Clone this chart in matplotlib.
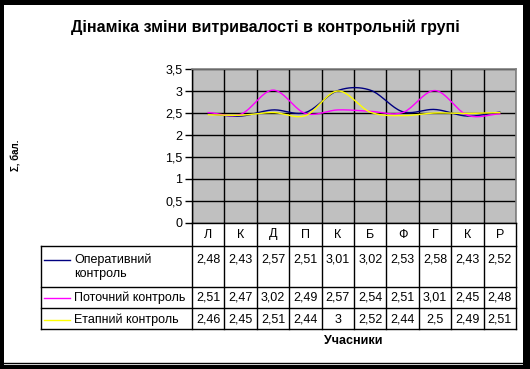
import matplotlib
matplotlib.use("Agg")
import matplotlib.pyplot as plt
import numpy as np
from matplotlib.patches import Rectangle

plt.rcParams['font.family'] = ['Liberation Sans', 'DejaVu Sans']

title = "Дінаміка зміни витривалості в контрольній групі"
categories = ["Л", "К", "Д", "П", "К", "Б", "Ф", "Г", "К", "Р"]
series_names = ["Оперативний\nконтроль", "Поточний контроль", "Етапний контроль"]
operative = [2.48, 2.43, 2.57, 2.51, 3.01, 3.02, 2.53, 2.58, 2.43, 2.52]
current = [2.51, 2.47, 3.02, 2.49, 2.57, 2.54, 2.51, 3.01, 2.45, 2.48]
stage = [2.46, 2.45, 2.51, 2.44, 3.0, 2.52, 2.44, 2.5, 2.49, 2.51]
colors = ["#000080", "#FF00FF", "#FFFF00"]
yticks = [0, 0.5, 1, 1.5, 2, 2.5, 3, 3.5]
ylabel = "Σ, бал."
xlabel = "Учасники"

W, H = 530, 369
fig = plt.figure(figsize=(W / 100, H / 100), dpi=100)

# plot area in pixel coords
pl, pr, pt, pb = 192, 516, 69, 223
ax = fig.add_axes([pl / W, 1 - pb / H, (pr - pl) / W, (pb - pt) / H])
ax.set_facecolor("#C0C0C0")
n = len(categories)
ax.set_xlim(0, n)
ax.set_ylim(0, 3.5)
ax.set_yticks(yticks)
ax.set_yticklabels([f"{v:g}".replace(".", ",") for v in yticks], fontsize=9)
ax.set_xticks(range(n + 1))
ax.set_xticklabels([])
ax.tick_params(axis="x", length=0)
ax.tick_params(axis="y", length=5, width=1, direction="out", pad=2)
ax.grid(True, color="black", linewidth=1)
ax.set_axisbelow(True)
for s in ["top", "right"]:
    ax.spines[s].set_color("#808080")
    ax.spines[s].set_linewidth(1.2)
for s in ["left", "bottom"]:
    ax.spines[s].set_color("black")
    ax.spines[s].set_linewidth(1)


def catmull(xs, ys, k=20):
    xs = np.asarray(xs, float)
    ys = np.asarray(ys, float)
    px = np.concatenate([[2 * xs[0] - xs[1]], xs, [2 * xs[-1] - xs[-2]]])
    py = np.concatenate([[2 * ys[0] - ys[1]], ys, [2 * ys[-1] - ys[-2]]])
    ox, oy = [], []
    t = np.linspace(0, 1, k, endpoint=False)
    for i in range(1, len(px) - 2):
        for p, o in ((px, ox), (py, oy)):
            p0, p1, p2, p3 = p[i - 1], p[i], p[i + 1], p[i + 2]
            v = 0.5 * ((2 * p1) + (-p0 + p2) * t + (2 * p0 - 5 * p1 + 4 * p2 - p3) * t ** 2
                       + (-p0 + 3 * p1 - 3 * p2 + p3) * t ** 3)
            o.extend(v)
    ox.append(xs[-1])
    oy.append(ys[-1])
    return np.array(ox), np.array(oy)


xpos = np.arange(n) + 0.5
for vals, c in zip([operative, current, stage], colors):
    sx, sy = catmull(xpos, vals)
    ax.plot(sx, sy, color=c, linewidth=1.0, clip_on=False)

ov2 = fig.add_axes([0, 0, 1, 1], zorder=5)
ov2.set_xlim(0, W)
ov2.set_ylim(H, 0)
ov2.axis("off")
ov2.patch.set_alpha(0)

cw = (pr - pl) / n
tl = 41
rows = [246, 287, 308, 329]
lk = dict(color="black", linewidth=1)
ov2.plot([pl, pl], [pb, rows[-1]], **lk)
for i in range(1, n + 1):
    x = pl + i * cw
    ov2.plot([x, x], [pb, rows[-1]], **lk)
ov2.plot([tl, tl], [rows[0], rows[-1]], **lk)
for y in rows:
    ov2.plot([tl, pr], [y, y], **lk)

for i, c in enumerate(categories):
    ov2.text(pl + (i + 0.5) * cw, 234.5, c, ha="center", va="center", fontsize=9)

row_text_y = [260, 298, 320]
row_val_y = [259, 298, 320]
for r, (name, vals, col) in enumerate(zip(series_names, [operative, current, stage], colors)):
    ly = row_text_y[r]
    ov2.plot([44, 70], [ly, ly], color=col, linewidth=1.0)
    if r == 0:
        ov2.text(74, 253, name, ha="left", va="top", fontsize=9, linespacing=1.25)
    else:
        ov2.text(74, ly, name, ha="left", va="center", fontsize=9)
    for i, v in enumerate(vals):
        ov2.text(pl + (i + 0.5) * cw, row_val_y[r], f"{v:g}".replace(".", ","),
                 ha="center", va="center", fontsize=9)

ov2.text(265, 27, title, ha="center", va="center", fontsize=11.5, fontweight="bold")
ov2.text(353, 341, xlabel, ha="center", va="center", fontsize=9, fontweight="bold")
ov2.text(16, 155, ylabel, ha="center", va="center", fontsize=7, fontweight="bold", rotation=90)

# black frame
ov2.add_patch(Rectangle((0, 0), 4, H, color="black", lw=0))
ov2.add_patch(Rectangle((0, 0), W, 5, color="black", lw=0))
ov2.add_patch(Rectangle((523, 0), 7, H, color="black", lw=0))
ov2.add_patch(Rectangle((0, 365), W, 4, color="black", lw=0))
ov2.plot([4, 523], [363, 363], color="black", linewidth=1)

fig.savefig("out.png", dpi=100)
